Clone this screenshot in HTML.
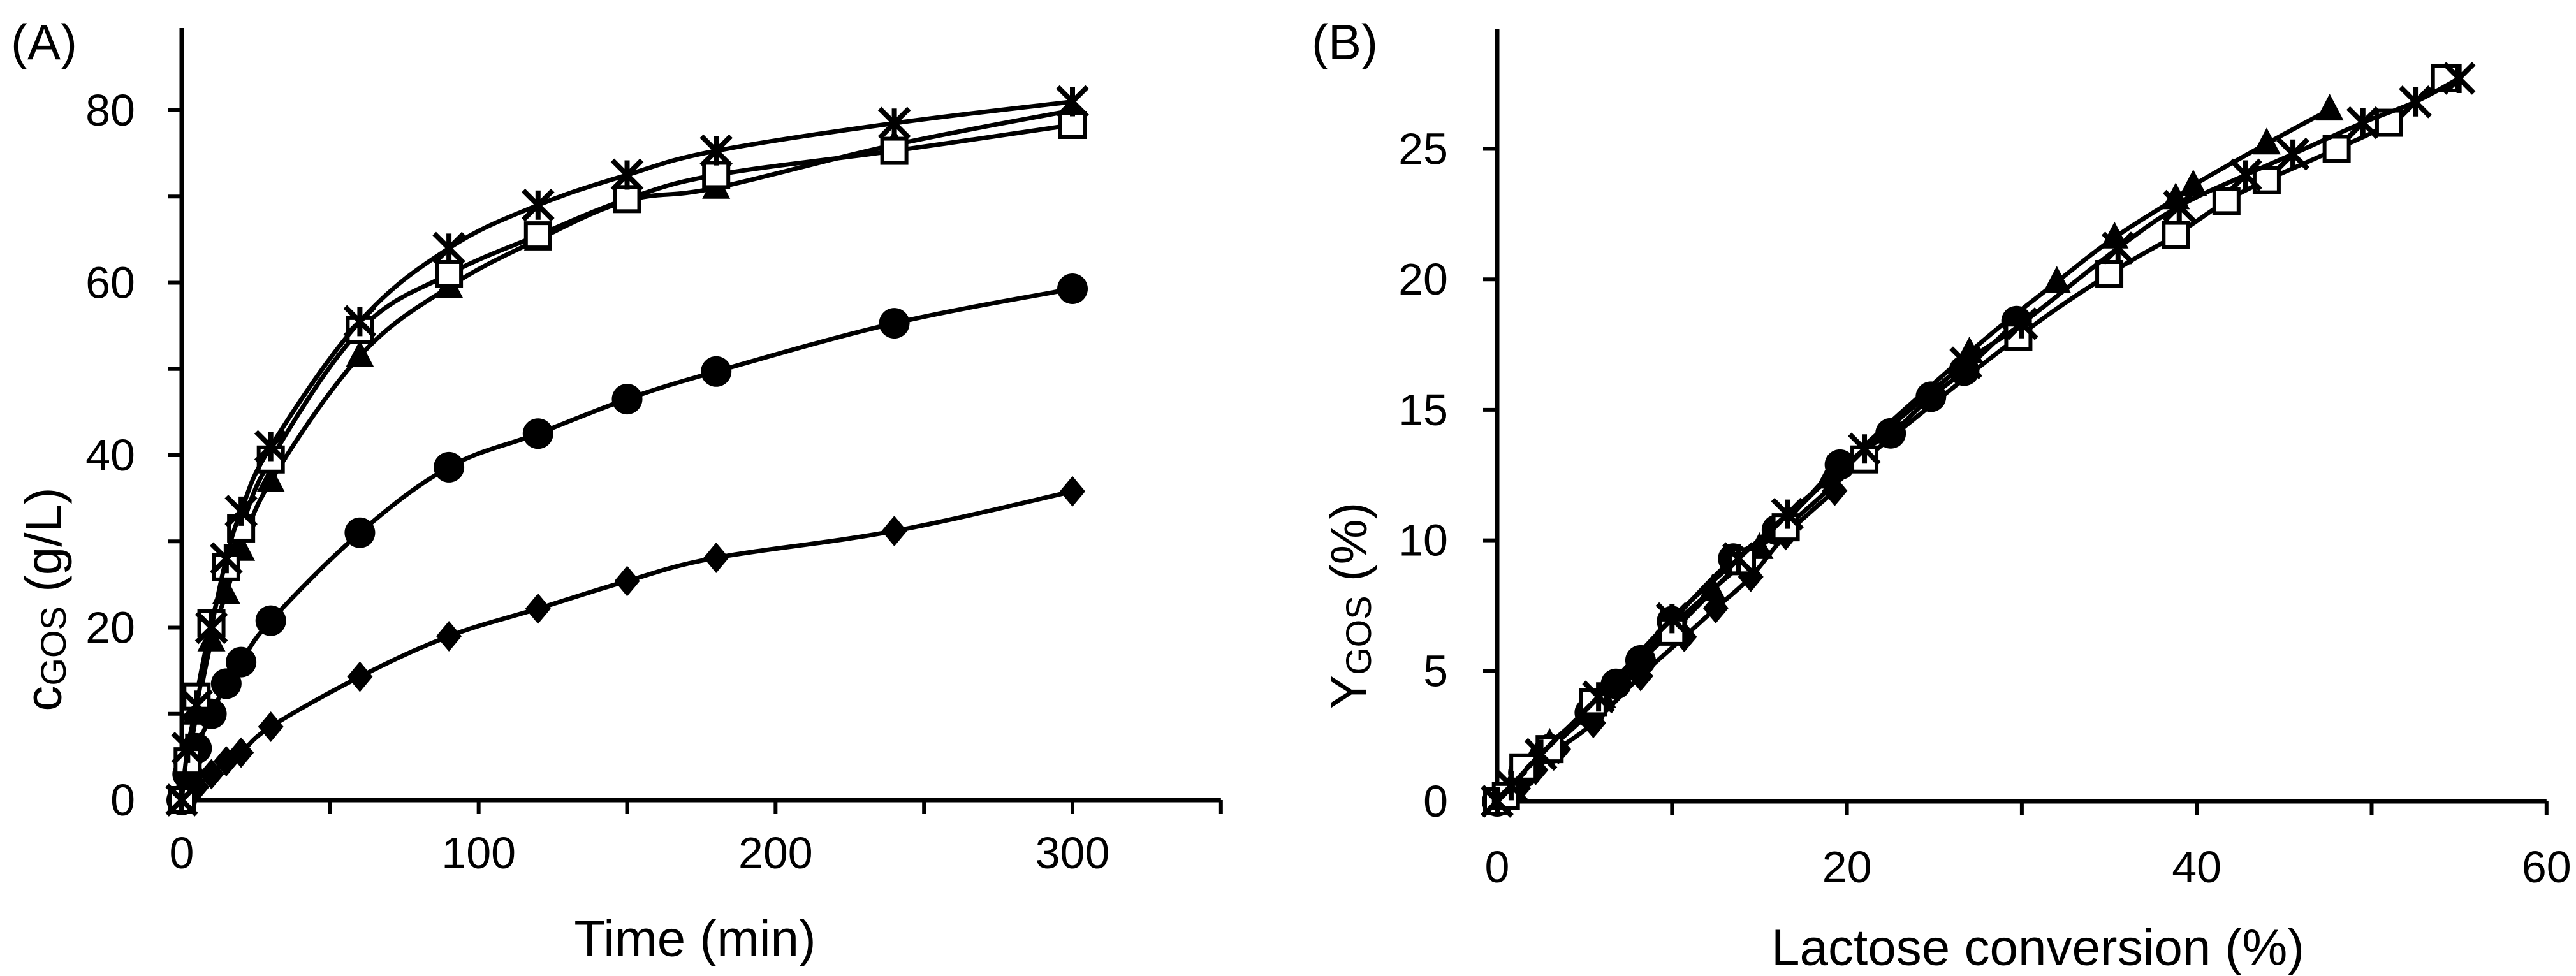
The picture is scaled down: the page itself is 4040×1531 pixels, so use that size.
<!DOCTYPE html>
<html><head><meta charset="utf-8"><style>
html,body{margin:0;padding:0;background:#fff;}
svg{display:block;font-family:"Liberation Sans",Arial,sans-serif;}
</style></head><body>
<svg id="chart" width="4040" height="1531" viewBox="0 0 4040 1531">
<g id="A"></g>
<g id="B"></g>
</svg>
<script>
// Panel A data
const timesA = [0, 2, 5, 10, 15, 20, 30, 60, 90, 120, 150, 180, 240, 300];
const diamondA = [0, 0.5, 1.5, 3, 4.5, 5.5, 8.5, 14.3, 19.0, 22.2, 25.4, 28.1, 31.2, 35.8];
const circleA = [0, 3, 6, 10, 13.5, 16, 20.8, 31, 38.6, 42.5, 46.5, 49.7, 55.3, 59.3];
const triangleA = [0, 4, 10, 18.5, 24, 29, 37, 51.5, 59.5, 65, 69.5, 71, 76, 80];
const squareA = [0, 4.5, 12, 20.5, 27, 31.5, 39.5, 54.5, 61, 65.5, 69.7, 72.5, 75.3, 78.3];
const starA = [0, 6, 11, 20, 28, 33.5, 41, 55.5, 64, 69, 72.5, 75.3, 78.5, 81];
const xTicksA = [0, 100, 200, 300];
const yTicksA = [0, 20, 40, 60, 80];

// Panel B data
const circleBx = [0, 1.5, 3, 5.3, 6.8, 8.2, 10, 13.5, 16, 19.6, 22.5, 24.8, 26.7, 29.7];
const circleBy = [0, 1.1, 2.0, 3.4, 4.5, 5.4, 6.9, 9.3, 10.4, 12.9, 14.1, 15.5, 16.5, 18.4];
const diamondBx = [0, 1.2, 2.2, 3.5, 5.5, 8.2, 10.7, 12.5, 14.5, 16.5, 19.3];
const diamondBy = [0, 0.5, 1.2, 2.0, 3.0, 4.8, 6.3, 7.4, 8.6, 10.2, 11.9];
const triangleBx = [0, 1, 2, 3, 6, 9.8, 12.3, 15, 19, 27, 32, 35.3, 38.8, 39.8, 44, 47.6];
const triangleBy = [0, 0.8, 1.5, 2.2, 4, 6.6, 8.1, 9.7, 12.4, 17.2, 19.9, 21.6, 23.1, 23.6, 25.2, 26.5];
const squareBx = [0, 0.5, 1.5, 3, 5.5, 10, 14, 16.5, 21, 29.8, 35, 38.8, 41.7, 44, 48, 51, 54.2];
const squareBy = [0, 0.2, 1.3, 2, 3.8, 6.5, 9.2, 10.5, 13.1, 17.8, 20.2, 21.7, 23, 23.8, 25, 26, 27.7];
const starBx = [0, 0.8, 2.5, 5.8, 10, 13.8, 16.6, 21, 26.8, 30, 35.5, 39, 42.8, 45.5, 49.5, 52.5, 55];
const starBy = [0, 0.6, 1.8, 4, 7, 9.3, 11, 13.5, 16.8, 18.3, 21.2, 22.8, 24, 24.8, 26, 26.8, 27.7];
const xTicksB = [0, 20, 40, 60];
const yTicksB = [0, 5, 10, 15, 20, 25];

const NS = "http://www.w3.org/2000/svg";
function mk(parent, tag, attrs, name, text) {
  const e = document.createElementNS(NS, tag);
  for (const k in attrs) e.setAttribute(k, attrs[k]);
  
  
  if (text !== undefined) e.textContent = text;
  parent.appendChild(e);
  return e;
}
function smoothPath(pts) {
  let d = "M" + pts[0][0] + "," + pts[0][1];
  for (let i = 0; i < pts.length - 1; i++) {
    const p0 = pts[Math.max(0, i - 1)], p1 = pts[i], p2 = pts[i + 1], p3 = pts[Math.min(pts.length - 1, i + 2)];
    const t = 0.18;
    const c1x = p1[0] + (p2[0] - p0[0]) * t, c1y = p1[1] + (p2[1] - p0[1]) * t;
    const c2x = p2[0] - (p3[0] - p1[0]) * t, c2y = p2[1] - (p3[1] - p1[1]) * t;
    d += " C" + c1x + "," + c1y + " " + c2x + "," + c2y + " " + p2[0] + "," + p2[1];
  }
  return d;
}
function marker(g, type, x, y) {
  const s = 23;
  if (type === 'circle') {
    mk(g, 'circle', {cx: x, cy: y, r: 24, fill: '#000'}, 'marker-circle');
  } else if (type === 'diamond') {
    mk(g, 'polygon', {points: `${x},${y-24} ${x+20},${y} ${x},${y+24} ${x-20},${y}`, fill: '#000'}, 'marker-diamond');
  } else if (type === 'triangle') {
    mk(g, 'polygon', {points: `${x},${y-25} ${x+22},${y+17} ${x-22},${y+17}`, fill: '#000'}, 'marker-triangle');
  } else if (type === 'square') {
    mk(g, 'rect', {x: x-19, y: y-19, width: 38, height: 38, fill: '#fff', stroke: '#000', 'stroke-width': 6}, 'marker-square');
  } else {
    mk(g, 'path', {d: `M${x-s},${y-s} L${x+s},${y+s} M${x+s},${y-s} L${x-s},${y+s} M${x},${y-s} L${x},${y+s}`, stroke: '#000', 'stroke-width': 8, fill: 'none'}, 'marker-star');
  }
}
function series(g, xs, ys, sx, sy, type, name) {
  const sg = mk(g, 'g', {}, name);
  const pts = xs.map((v, i) => [sx(v), sy(ys[i])]);
  mk(sg, 'path', {d: smoothPath(pts), fill: 'none', stroke: '#000', 'stroke-width': 7}, name + '-line');
  pts.forEach(p => marker(sg, type, p[0], p[1]));
}
function axes(g, x0, y0, xEnd, yTop, xMinorStep, xMax, sx, yMinorStep, yMax, sy, xTicks, yTicks, yLabelRight, xLabelY) {
  mk(g, 'line', {x1: x0, y1: y0, x2: xEnd, y2: y0, stroke: '#000', 'stroke-width': 7}, 'x-axis-line');
  mk(g, 'line', {x1: x0, y1: y0, x2: x0, y2: yTop, stroke: '#000', 'stroke-width': 7}, 'y-axis-line');
  for (let v = 0; v <= xMax + 1e-9; v += xMinorStep) mk(g, 'line', {x1: sx(v), y1: y0, x2: sx(v), y2: y0 + 22, stroke: '#000', 'stroke-width': 6}, 'x-tick');
  for (let v = 0; v <= yMax + 1e-9; v += yMinorStep) mk(g, 'line', {x1: x0, y1: sy(v), x2: x0 - 22, y2: sy(v), stroke: '#000', 'stroke-width': 6}, 'y-tick');
  xTicks.forEach(v => mk(g, 'text', {x: sx(v), y: xLabelY, 'font-size': 70, 'text-anchor': 'middle', 'dominant-baseline': 'central'}, 'x-tick-label', String(v)));
  yTicks.forEach(v => mk(g, 'text', {x: yLabelRight, y: sy(v), 'font-size': 70, 'text-anchor': 'end', 'dominant-baseline': 'central'}, 'y-tick-label', String(v)));
}

// Panel A
const gA = document.getElementById('A');
const xA = v => 285 + v * (1397 / 300);
const yA = v => 1255 - v * 13.525;
axes(gA, 285, 1255, xA(350), 44, 50, 350, xA, 10, 89, yA, xTicksA, yTicksA, 212, 1338);
mk(gA, 'text', {x: 17, y: 66, 'font-size': 78, 'dominant-baseline': 'central'}, 'panel-label-a', '(A)');
mk(gA, 'text', {x: 1090, y: 1472, 'font-size': 80, 'text-anchor': 'middle', 'dominant-baseline': 'central'}, 'x-axis-title', 'Time (min)');
const ytA = mk(gA, 'text', {x: 0, y: 0, 'font-size': 80, 'text-anchor': 'middle', 'dominant-baseline': 'central', transform: 'translate(68,940) rotate(-90)'}, 'y-axis-title');
ytA.innerHTML = 'c<tspan font-size="56" dy="15">GOS</tspan><tspan dy="-15"> (g/L)</tspan>';
series(gA, timesA, diamondA, xA, yA, 'diamond', 'series-diamond');
series(gA, timesA, circleA, xA, yA, 'circle', 'series-circle');
series(gA, timesA, triangleA, xA, yA, 'triangle', 'series-triangle');
series(gA, timesA, squareA, xA, yA, 'square', 'series-square');
series(gA, timesA, starA, xA, yA, 'star', 'series-star');

// Panel B
const gB = document.getElementById('B');
const xB = v => 2348 + v * 27.43;
const yB = v => 1257 - v * 40.94;
axes(gB, 2348, 1257, xB(60), 46, 10, 60, xB, 5, 25, yB, xTicksB, yTicksB, 2271, 1360);
mk(gB, 'text', {x: 2057, y: 66, 'font-size': 78, 'dominant-baseline': 'central'}, 'panel-label-b', '(B)');
mk(gB, 'text', {x: 3196, y: 1486, 'font-size': 80, 'text-anchor': 'middle', 'dominant-baseline': 'central'}, 'x-axis-title', 'Lactose conversion (%)');
const ytB = mk(gB, 'text', {x: 0, y: 0, 'font-size': 80, 'text-anchor': 'middle', 'dominant-baseline': 'central', transform: 'translate(2115,950) rotate(-90)'}, 'y-axis-title');
ytB.innerHTML = 'Y<tspan font-size="56" dy="15">GOS</tspan><tspan dy="-15"> (%)</tspan>';
series(gB, diamondBx, diamondBy, xB, yB, 'diamond', 'series-diamond');
series(gB, circleBx, circleBy, xB, yB, 'circle', 'series-circle');
series(gB, triangleBx, triangleBy, xB, yB, 'triangle', 'series-triangle');
series(gB, squareBx, squareBy, xB, yB, 'square', 'series-square');
series(gB, starBx, starBy, xB, yB, 'star', 'series-star');
</script>
</body></html>
